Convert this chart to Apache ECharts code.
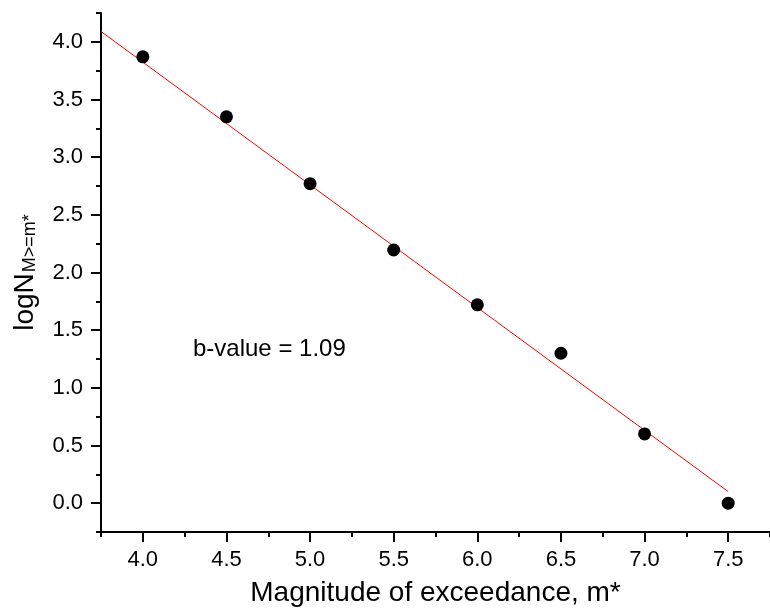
<!DOCTYPE html>
<html>
<head>
<meta charset="utf-8">
<script src="https://cdn.jsdelivr.net/npm/echarts@6/dist/echarts.min.js"></script>
<style>html,body{margin:0;padding:0;background:#fff;}#c{width:770px;height:613px;}</style>
</head>
<body>
<div id="c"></div>
<script>
// Data
var magnitudes = [4.0, 4.5, 5.0, 5.5, 6.0, 6.5, 7.0, 7.5];
var logN = [3.87, 3.35, 2.77, 2.195, 1.72, 1.30, 0.60, 0.0];
var fitX = [3.75, 7.5];
var fitY = [4.09, 0.10];
var xMajorTicks = [4.0, 4.5, 5.0, 5.5, 6.0, 6.5, 7.0, 7.5];
var xMinorTicks = [3.75, 4.25, 4.75, 5.25, 5.75, 6.25, 6.75, 7.25, 7.75];
var yMajorTicks = [0.0, 0.5, 1.0, 1.5, 2.0, 2.5, 3.0, 3.5, 4.0];
var yMinorTicks = [-0.25, 0.25, 0.75, 1.25, 1.75, 2.25, 2.75, 3.25, 3.75, 4.25];
var annotation = 'b-value = 1.09';

var font = 'Liberation Sans, Arial, Helvetica, sans-serif';
var chart = echarts.init(document.getElementById('c'), null, {renderer: 'canvas'});

function pair(xs, ys) { return xs.map(function (x, i) { return [x, ys[i]]; }); }

var option = {
  animation: false,
  backgroundColor: '#fff',
  grid: {left: 101, top: 13, width: 672, height: 519, containLabel: false},
  xAxis: [{
    type: 'value', min: 3.75, max: 7.75,
    name: 'Magnitude of exceedance, m*', nameLocation: 'middle', nameGap: 47,
    nameTextStyle: {fontSize: 28, color: '#000', fontFamily: font},
    axisLine: {show: true, onZero: false, lineStyle: {color: '#000', width: 2}},
    axisTick: {show: true, customValues: xMajorTicks, length: 10, lineStyle: {color: '#000', width: 2}},
    axisLabel: {show: true, customValues: xMajorTicks, margin: 17, fontSize: 22, color: '#000', fontFamily: font,
      formatter: function (v) { return v.toFixed(1); }},
    splitLine: {show: false}
  }, {
    type: 'value', min: 3.75, max: 7.75, position: 'bottom',
    axisLine: {show: false, onZero: false},
    axisTick: {show: true, customValues: xMinorTicks, length: 5, lineStyle: {color: '#000', width: 2}},
    axisLabel: {show: false},
    splitLine: {show: false}
  }],
  yAxis: [{
    type: 'value', min: -0.25, max: 4.25,
    name: '{a|logN}{b|M>=m*}', nameLocation: 'middle', nameGap: 62,
    nameTextStyle: {fontSize: 28, color: '#000', fontFamily: font,
      rich: {
        a: {fontSize: 28, fontFamily: font, color: '#000', verticalAlign: 'bottom'},
        b: {fontSize: 18, fontFamily: font, color: '#000', verticalAlign: 'bottom', padding: [0, 0, 0, 1], lineHeight: 14}
      }},
    axisLine: {show: true, onZero: false, lineStyle: {color: '#000', width: 2}},
    axisTick: {show: true, customValues: yMajorTicks, length: 10, lineStyle: {color: '#000', width: 2}},
    axisLabel: {show: true, customValues: yMajorTicks, margin: 18, fontSize: 22, color: '#000', fontFamily: font,
      formatter: function (v) { return v.toFixed(1); }},
    splitLine: {show: false}
  }, {
    type: 'value', min: -0.25, max: 4.25, position: 'left',
    axisLine: {show: false, onZero: false},
    axisTick: {show: true, customValues: yMinorTicks, length: 5, lineStyle: {color: '#000', width: 2}},
    axisLabel: {show: false},
    splitLine: {show: false}
  }],
  series: [{
    type: 'line', data: pair(fitX, fitY), showSymbol: false, symbol: 'none',
    lineStyle: {color: '#ff0000', width: 1}, z: 2
  }, {
    type: 'scatter', data: pair(magnitudes, logN), symbol: 'circle', symbolSize: 13,
    itemStyle: {color: '#000', opacity: 1}, z: 3
  }],
  graphic: [{
    type: 'text', left: 193, top: 337,
    style: {text: annotation, fontSize: 24, fill: '#000', fontFamily: font}
  }]
};
chart.setOption(option);
</script>
</body>
</html>
